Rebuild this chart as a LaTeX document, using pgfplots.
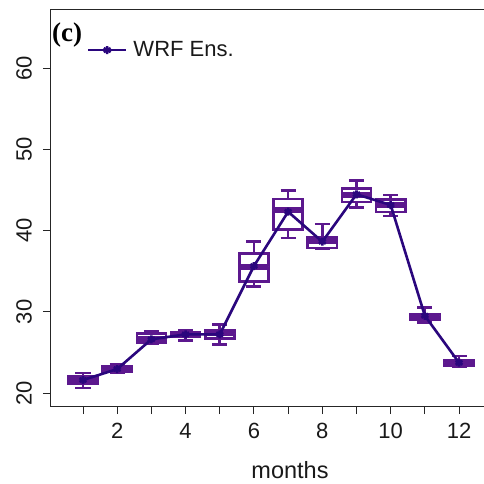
\documentclass[border=0pt]{standalone}
\usepackage{fontspec}
\setmainfont{Liberation Sans}
\newfontfamily\timesfont{Liberation Serif}
\usepackage{pgfplots}
\pgfplotsset{compat=1.18}
\usepgfplotslibrary{statistics}
\definecolor{boxc}{RGB}{92,24,142}
\definecolor{linec}{RGB}{42,6,125}
\pgfplotsset{
  boxplot/draw direction=y,
  boxplot/every median/.style={line width=6bp, draw=boxc},
  boxplot/every whisker/.style={line width=2.6bp, draw=boxc},
  boxplot/every box/.style={line width=2.6bp, draw=boxc, fill=white},
  mybox/.style={forget plot, solid, draw=boxc, fill=white, line width=2.6bp, mark=none}
}
\begin{document}
\begin{tikzpicture}
\path[use as bounding box] (0,0) rectangle (484bp,484bp);
\begin{axis}[
  at={(50bp,77bp)}, anchor=south west,
  scale only axis, width=434bp, height=397bp,
  xmin=0.0345, xmax=12.73, ymin=18.28, ymax=67.14,
  boxplot/draw direction=y,
  axis x line=bottom, axis y line=left,
  axis line style={-, line width=1bp, black!85},
  xtick={1,...,12}, xticklabels={,2,,4,,6,,8,,10,,12},
  ytick={20,30,40,50,60},
  tick align=outside, major tick length=7bp,
  tick style={line width=1bp, black!85},
  /pgf/number format/assume math mode=true,
  ticklabel style={font=\fontsize{22bp}{22bp}\selectfont, text=black!90},
  xticklabel style={anchor=north, inner sep=0pt, yshift=-9bp},
  yticklabel style={rotate=90, anchor=south, inner sep=0pt, yshift=11bp},
  xlabel={months},
  xlabel style={at={(axis description cs:0.553,0)}, anchor=base, yshift=-71bp,
    inner sep=0pt, font=\fontsize{23.5bp}{24bp}\selectfont, text=black!90},
  clip=false,
  legend style={at={(axis description cs:0.085,0.899)}, anchor=west,
    draw=none, fill=none, inner sep=0pt, outer sep=0pt,
    font=\fontsize{22bp}{22bp}\selectfont, text=black!90,
    nodes={inner sep=0pt},
    /tikz/every odd column/.append style={column sep=6bp}},
  legend image code/.code={\draw[mark repeat=2,mark phase=2,#1] plot coordinates {(0bp,0bp) (19bp,0bp) (38bp,0bp)};},
]
% month: lower whisker, lower quartile, median, upper quartile, upper whisker
\addplot+[mybox, boxplot prepared={draw position=1, lower whisker=20.64, lower quartile=21.17, median=21.60, upper quartile=22.03, upper whisker=22.44, box extend=0.85, whisker extend=0.44}] coordinates {};
\addplot+[mybox, boxplot prepared={draw position=2, lower whisker=22.52, lower quartile=22.60, median=22.95, upper quartile=23.26, upper whisker=23.54, box extend=0.85, whisker extend=0.44}] coordinates {};
\addplot+[mybox, boxplot prepared={draw position=3, lower whisker=26.10, lower quartile=26.22, median=26.65, upper quartile=27.29, upper whisker=27.57, box extend=0.85, whisker extend=0.44}] coordinates {};
\addplot+[mybox, boxplot prepared={draw position=4, lower whisker=26.50, lower quartile=26.92, median=27.22, upper quartile=27.48, upper whisker=27.78, box extend=0.85, whisker extend=0.44}] coordinates {};
\addplot+[mybox, boxplot prepared={draw position=5, lower whisker=26.00, lower quartile=26.71, median=27.38, upper quartile=27.78, upper whisker=28.47, box extend=0.85, whisker extend=0.44}] coordinates {};
\addplot+[mybox, boxplot prepared={draw position=6, lower whisker=33.14, lower quartile=33.69, median=35.55, upper quartile=37.20, upper whisker=38.65, box extend=0.85, whisker extend=0.44}] coordinates {};
\addplot+[mybox, boxplot prepared={draw position=7, lower whisker=39.10, lower quartile=40.12, median=42.52, upper quartile=43.90, upper whisker=44.92, box extend=0.85, whisker extend=0.44}] coordinates {};
\addplot+[mybox, boxplot prepared={draw position=8, lower whisker=37.78, lower quartile=37.87, median=38.77, upper quartile=39.14, upper whisker=40.82, box extend=0.85, whisker extend=0.44}] coordinates {};
\addplot+[mybox, boxplot prepared={draw position=9, lower whisker=42.83, lower quartile=43.53, median=44.37, upper quartile=45.20, upper whisker=46.15, box extend=0.85, whisker extend=0.44}] coordinates {};
\addplot+[mybox, boxplot prepared={draw position=10, lower whisker=41.81, lower quartile=42.30, median=43.20, upper quartile=43.85, upper whisker=44.39, box extend=0.85, whisker extend=0.44}] coordinates {};
\addplot+[mybox, boxplot prepared={draw position=11, lower whisker=28.68, lower quartile=29.08, median=29.48, upper quartile=29.75, upper whisker=30.56, box extend=0.85, whisker extend=0.44}] coordinates {};
\addplot+[mybox, boxplot prepared={draw position=12, lower whisker=23.26, lower quartile=23.35, median=23.73, upper quartile=24.00, upper whisker=24.58, box extend=0.85, whisker extend=0.44}] coordinates {};
% ensemble mean
\addplot[color=linec, line width=2.6bp, mark=asterisk, mark size=4bp,
  mark options={line width=2.6bp, solid}] coordinates {
  (1,21.60) (2,22.95) (3,26.61) (4,27.22) (5,27.22) (6,35.63)
  (7,42.31) (8,38.62) (9,44.46) (10,43.14) (11,29.51) (12,23.73)};
\addlegendentry{WRF Ens.}
\draw[line width=1bp, black!85] (rel axis cs:0,1) -- (rel axis cs:1,1);
\node[anchor=base west, inner sep=0pt, font=\timesfont\bfseries\fontsize{27bp}{27bp}\selectfont]
  at (rel axis cs:0,1) [xshift=2bp, yshift=-32bp] {(c)};
\end{axis}
\end{tikzpicture}
\end{document}
